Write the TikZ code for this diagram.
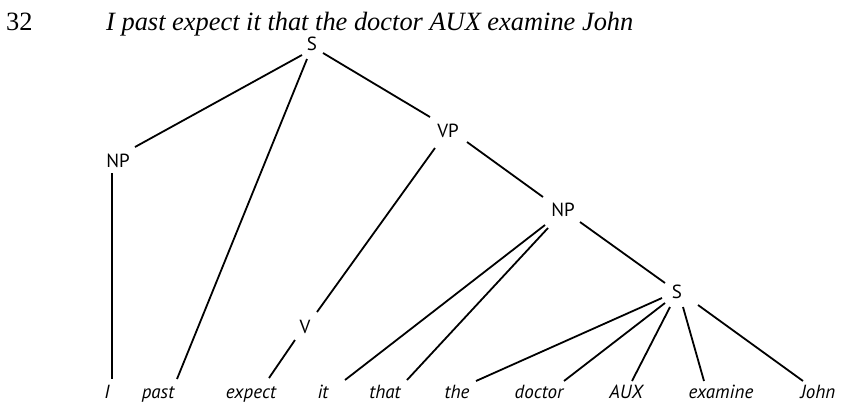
\documentclass[tikz,border=0pt]{standalone}
\usepackage{fontspec}
\setmainfont{Liberation Serif}
\newfontfamily\treefont{PT Sans}
\usetikzlibrary{calc}
\begin{document}
\begin{tikzpicture}[x=1pt,y=-1pt,
  lab/.style={inner sep=0pt,font=\treefont\fontsize{19}{19}\selectfont},
  leaf/.style={inner sep=0pt,anchor=base,font=\treefont\itshape\fontsize{19}{19}\selectfont},
  ttl/.style={inner sep=0pt,anchor=base west,font=\fontsize{26.4}{26.4}\selectfont},
  edge/.style={line width=1.8pt,black}]
\useasboundingbox (0,0) rectangle (841,402);
% title
\node[ttl] (num) at (6,30) {32};
\node[ttl,font=\fontsize{26.4}{26.4}\selectfont\itshape] (title) at (106,30) {I past expect it that the doctor AUX examine John};
% internal nodes
\node[lab] (S) at (312,44) {S};
\node[lab] (NPa) at (118,161) {NP};
\node[lab] (VP) at (448,131) {VP};
\node[lab] (NPb) at (563,210) {NP};
\node[lab] (V) at (305,327) {V};
\node[lab] (S2) at (677,292) {S};
% leaves
\node[leaf] (I) at (107,398) {I};
\node[leaf] (past) at (158,398) {past};
\node[leaf] (expect) at (251,398) {expect};
\node[leaf] (it) at (323,398) {it};
\node[leaf] (that) at (385,398) {that};
\node[leaf] (the) at (457,398) {the};
\node[leaf] (doctor) at (539,398) {doctor};
\node[leaf] (AUX) at (626,398) {AUX};
\node[leaf] (examine) at (721,398) {examine};
\node[leaf] (John) at (818,398) {John};
% edges
\draw[edge] ($(S)+(-10,11)$) -- ($(NPa)+(17,-14)$);
\draw[edge] ($(S)+(-5,15)$) -- ($(past.base)+(19,-19)$);
\draw[edge] ($(S)+(11,9)$) -- ($(VP)+(-18,-14)$);
\draw[edge] ($(NPa)+(-6,12)$) -- ($(I.base)+(5,-19)$);
\draw[edge] ($(VP)+(-13,17)$) -- ($(V)+(12,-15)$);
\draw[edge] ($(VP)+(19,11)$) -- ($(NPb)+(-20,-13)$);
\draw[edge] ($(V)+(-10,13)$) -- ($(expect.base)+(18,-20)$);
\draw[edge] ($(NPb)+(-18,15)$) -- ($(it.base)+(22,-18)$);
\draw[edge] ($(NPb)+(-15,18)$) -- ($(that.base)+(22,-18)$);
\draw[edge] ($(NPb)+(17,12)$) -- ($(S2)+(-12,-9)$);
\draw[edge] ($(S2)+(-15,6)$) -- ($(the.base)+(19,-17)$);
\draw[edge] ($(S2)+(-12,11)$) -- ($(doctor.base)+(25,-17)$);
\draw[edge] ($(S2)+(-7,15)$) -- ($(AUX.base)+(6,-17)$);
\draw[edge] ($(S2)+(6,15)$) -- ($(examine.base)+(-17,-17)$);
\draw[edge] ($(S2)+(21,13)$) -- ($(John.base)+(-15,-17)$);
\end{tikzpicture}
\end{document}
